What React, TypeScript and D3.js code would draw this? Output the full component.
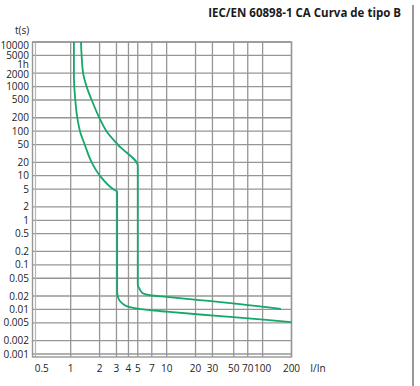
import { useRef, useEffect } from 'react';
import * as d3 from 'd3';

// tick values of the two axes
const xTicks = [0.5, 1, 2, 3, 4, 5, 7, 10, 20, 30, 50, 70, 100, 200];
const xGrid = [1, 2, 3, 4, 5, 7, 10, 20, 30, 50, 70, 100, 200];
const yTicks = [10000, 5000, 3600, 2000, 1000, 500, 200, 100, 50, 20, 10, 5, 2, 1, 0.5, 0.2, 0.1, 0.05, 0.02, 0.01, 0.005, 0.002, 0.001];
const yTickLabels = ['10000', '5000', '1h', '2000', '1000', '500', '200', '100', '50', '20', '10', '5', '2', '1', '0.5', '0.2', '0.1', '0.05', '0.02', '0.01', '0.005', '0.002', '0.001'];

// lower limit of the B curve (I/In, t in s)
const lowerI = [1.08, 1.08, 1.117, 1.171, 1.25, 1.4, 1.655, 2.02, 2.78, 3.05, 3.05, 3.13, 3.4, 3.83, 4.49, 6.7, 10, 22.2, 49.4, 110, 200];
const lowerT = [10000, 2000, 500, 200, 100, 50, 20, 10, 5, 4.4, 0.0255, 0.0181, 0.014, 0.0118, 0.0108, 0.0096, 0.0089, 0.0077, 0.0067, 0.0058, 0.0052];

// upper limit of the B curve
const upperI = [1.28, 1.3, 1.353, 1.489, 1.655, 2.02, 2.37, 3.13, 5, 5, 5.27, 5.7, 6.7, 10, 22.2, 58, 155];
const upperT = [10000, 5000, 1900, 900, 500, 186, 98, 48.5, 16.7, 0.036, 0.0279, 0.0227, 0.0208, 0.0191, 0.0162, 0.0132, 0.0103];

const title = 'IEC/EN 60898-1 CA Curva de tipo B';

export default function App() {
  const svgRef = useRef(null);
  const width = 420, height = 386;
  const margin = { top: 42, left: 32.5, right: 128.5, bottom: 29 };

  useEffect(() => {
    const svg = d3.select(svgRef.current);
    svg.selectAll('*').remove();

    const x = d3.scaleLog().domain([0.4, 200]).range([margin.left, width - margin.right]);
    const y = d3.scaleLog().domain([0.001, 10000]).range([height - margin.bottom - 3, margin.top]);
    const font = "'Open Sans', sans-serif";
    const grid = '#969696';
    // small nudges so the crowded top labels don't collide
    const labelShift = (d: number) => (d === 10000 ? 3.5 : d === 3600 ? 3 : d === 2000 ? 1 : 0);

    const g = svg.append('g');

    // horizontal grid
    g.selectAll('line.hg')
      .data(yTicks.filter(d => d !== 3600))
      .join('line')
      .attr('x1', margin.left).attr('x2', x(200))
      .attr('y1', d => y(d)).attr('y2', d => y(d))
      .attr('stroke', grid).attr('stroke-width', 1.3);

    // vertical grid
    g.selectAll('line.vg')
      .data(xGrid)
      .join('line')
      .attr('x1', d => x(d)).attr('x2', d => x(d))
      .attr('y1', margin.top).attr('y2', height - margin.bottom)
      .attr('stroke', grid).attr('stroke-width', 1.3);

    // inner double line + frame
    g.append('line')
      .attr('x1', margin.left + 3).attr('x2', margin.left + 3)
      .attr('y1', margin.top).attr('y2', height - margin.bottom)
      .attr('stroke', '#b5b5b5').attr('stroke-width', 1.2);
    g.append('rect')
      .attr('x', margin.left).attr('y', margin.top)
      .attr('width', x(200) - margin.left).attr('height', height - margin.bottom - margin.top)
      .attr('fill', 'none').attr('stroke', grid).attr('stroke-width', 1.4);

    // y labels
    g.selectAll('text.yl')
      .data(yTicks)
      .join('text')
      .attr('x', 29)
      .attr('y', d => y(d) + labelShift(d))
      .attr('dy', '0.35em')
      .attr('text-anchor', 'end')
      .attr('font-family', font).attr('font-size', 10).attr('fill', '#222')
      .text((d, i) => yTickLabels[i]);

    // x labels
    g.selectAll('text.xl')
      .data(xTicks)
      .join('text')
      .attr('x', d => x(d))
      .attr('y', 372)
      .attr('text-anchor', 'middle')
      .attr('font-family', font).attr('font-size', 10).attr('fill', '#222')
      .text(d => String(d));

    g.append('text').attr('x', 22).attr('y', 34).attr('text-anchor', 'middle')
      .attr('font-family', font).attr('font-size', 10).attr('fill', '#222').text('t(s)');
    g.append('text').attr('x', 318).attr('y', 372).attr('text-anchor', 'middle')
      .attr('font-family', font).attr('font-size', 10).attr('fill', '#222').text('I/In');

    g.append('text').attr('x', 401).attr('y', 17).attr('text-anchor', 'end')
      .attr('font-family', font).attr('font-weight', 'bold').attr('font-size', 11.5).attr('fill', '#1a1a1a')
      .text(title);

    // right border
    g.append('line').attr('x1', 413).attr('x2', 413).attr('y1', 5).attr('y2', height)
      .attr('stroke', '#333').attr('stroke-width', 1);

    // curves
    const line = d3.line<[number, number]>()
      .x(d => x(d[0])).y(d => y(d[1]))
      .curve(d3.curveMonotoneY);
    const curves = [
      lowerI.map((v, i) => [v, lowerT[i]] as [number, number]),
      upperI.map((v, i) => [v, upperT[i]] as [number, number]),
    ];
    g.selectAll('path.curve')
      .data(curves)
      .join('path')
      .attr('d', d => line(d))
      .attr('fill', 'none')
      .attr('stroke', '#14a86a')
      .attr('stroke-width', 1.8);
  }, []);

  return (
    <svg ref={svgRef} width={width} height={height}
      style={{ position: 'absolute', left: 0, top: 0, background: '#fff' }} />
  );
}
